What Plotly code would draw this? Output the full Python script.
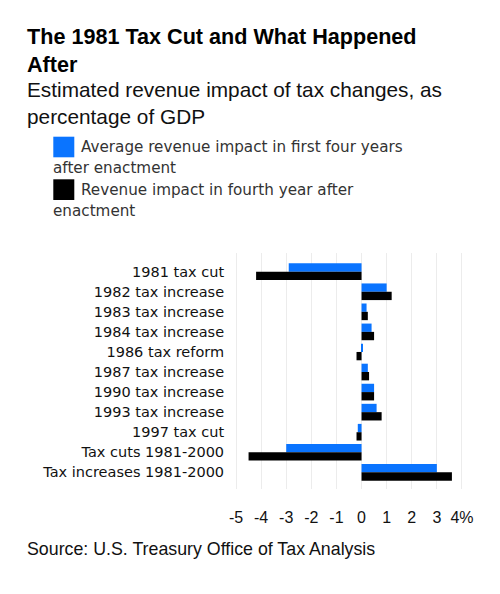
import plotly.graph_objects as go

categories = ["1981 tax cut", "1982 tax increase", "1983 tax increase", "1984 tax increase",
              "1986 tax reform", "1987 tax increase", "1990 tax increase", "1993 tax increase",
              "1997 tax cut", "Tax cuts 1981-2000", "Tax increases 1981-2000"]
avg_first_four = [-2.9, 1.0, 0.2, 0.4, 0.02, 0.25, 0.5, 0.6, -0.15, -3.0, 3.0]
fourth_year = [-4.2, 1.2, 0.25, 0.5, -0.2, 0.3, 0.5, 0.8, -0.2, -4.5, 3.6]
tick_vals = [-5, -4, -3, -2, -1, 0, 1, 2, 3, 4]
tick_text = ["-5", "-4", "-3", "-2", "-1", "0", "1", "2", "3", "4%"]
series_names = ["Average revenue impact in first four years after enactment",
                "Revenue impact in fourth year after enactment"]

BLUE = "#0a74ff"
W, Hh = 500, 594
OFF = 8  # page body margin
# plot area in screen pixels
SL, SR, ST, SB = 231, 472, 253, 489
L, R, T, B = SL - OFF, SR - OFF, ST - OFF, SB - OFF


def px(x):
    return (x - OFF - L) / (R - L)


def py(y):
    return (B - (y - OFF)) / (B - T)


fig = go.Figure()
fig.add_trace(go.Bar(y=categories, x=avg_first_four, orientation="h", name=series_names[0],
                     marker=dict(color=BLUE, line=dict(width=0))))
fig.add_trace(go.Bar(y=categories, x=fourth_year, orientation="h", name=series_names[1],
                     marker=dict(color="#000000", line=dict(width=0))))


def note(text, x, y, font, yanchor="middle", align="left"):
    return dict(text=text, x=px(x), y=py(y), xref="paper", yref="paper",
                xanchor="left", yanchor=yanchor, align=align, showarrow=False, font=font)


ann = []
ann.append(note("<b>The 1981 Tax Cut and What Happened<br>After</b>", 25, 22,
                dict(family="Liberation Sans", size=21.6, color="#000"), yanchor="top"))
ann.append(note("Estimated revenue impact of tax changes, as<br>percentage of GDP", 25, 76,
                dict(family="Liberation Sans", size=20.8, color="#111"), yanchor="top"))
leg_font = dict(family="DejaVu Sans", size=15.2, color="#333")
ann.append(note("Average revenue impact in first four years", 79, 146.5, leg_font))
ann.append(note("after enactment", 51, 168, leg_font))
ann.append(note("Revenue impact in fourth year after", 79, 189.5, leg_font))
ann.append(note("enactment", 51, 211, leg_font))
ann.append(note("Source: U.S. Treasury Office of Tax Analysis", 25, 549,
                dict(family="Liberation Sans", size=17.8, color="#111")))

shapes = [
    dict(type="rect", xref="paper", yref="paper", x0=px(53.3), x1=px(74.3), y0=py(157.3), y1=py(136.7),
         fillcolor=BLUE, line=dict(width=0)),
    dict(type="rect", xref="paper", yref="paper", x0=px(53.3), x1=px(74.3), y0=py(200), y1=py(179.3),
         fillcolor="#000", line=dict(width=0)),
]

fig.update_layout(
    width=W, height=Hh,
    margin=dict(l=L, r=W - R, t=T, b=Hh - B, pad=0, autoexpand=False),
    paper_bgcolor="white", plot_bgcolor="white",
    barmode="group", bargap=0.17, bargroupgap=0,
    showlegend=False,
    annotations=ann, shapes=shapes,
    xaxis=dict(range=[-5.2, 4.4], tickvals=tick_vals, ticktext=tick_text, showgrid=True,
               gridcolor="#ececec", gridwidth=1, zeroline=False, showline=False,
               ticks="outside", ticklen=14, tickcolor="rgba(0,0,0,0)", automargin=False,
               tickfont=dict(family="Liberation Sans", size=16, color="#111"), fixedrange=True),
    yaxis=dict(categoryorder="array", categoryarray=categories, range=[10.83, -0.932],
               showgrid=False, zeroline=False, showline=False, automargin=False,
               ticks="outside", ticklen=3, tickcolor="rgba(0,0,0,0)",
               tickfont=dict(family="DejaVu Sans", size=14.5, color="#111")),
)

fig.write_html("out.html")
